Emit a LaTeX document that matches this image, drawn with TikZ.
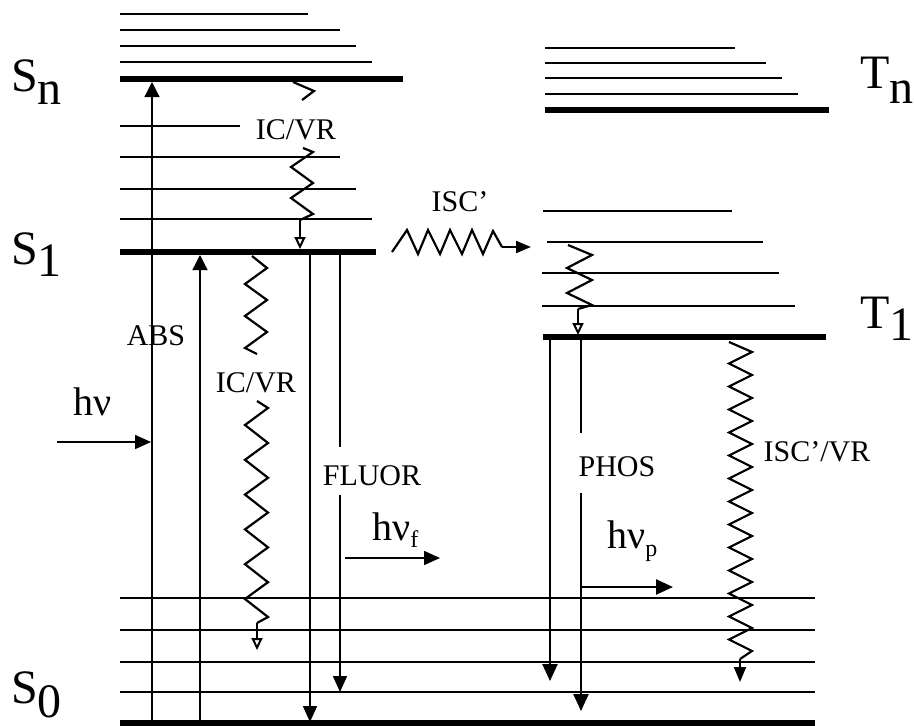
\documentclass[tikz,border=0pt]{standalone}
\usepackage{fontspec}
\setmainfont{Liberation Serif}
\usetikzlibrary{arrows.meta}
\begin{document}
\begin{tikzpicture}[x=1pt,y=-1pt,
  lvl/.style={line width=1.5pt},
  mainlvl/.style={line width=5.5pt},
  trans/.style={line width=1.6pt,-{Triangle[length=16pt,width=14pt]}},
  phos/.style={line width=2.5pt,-{Triangle[length=17pt,width=15pt]}},
  thinup/.style={line width=1.2pt,-{Triangle[length=15pt,width=15pt]}},
  zz/.style={line width=2.2pt,line join=miter},
  openhead/.style={line width=2pt,-{Triangle[open,length=12pt,width=11pt]}},
  smallhead/.style={line width=2pt,-{Triangle[length=15pt,width=12pt]}},
  big/.style={font=\fontsize{48}{52}\selectfont,inner sep=0pt,anchor=base west},
  hnu/.style={font=\fontsize{40}{44}\selectfont,inner sep=0pt,anchor=base west},
  lab/.style={font=\fontsize{30}{34}\selectfont,inner sep=0pt,anchor=base},
]
\useasboundingbox (0,0) rectangle (914,726);

% ---------- singlet manifold ----------
\foreach \y/\xe in {14/308,30/340,46/356,62/372}
  \draw[lvl] (120,\y) -- (\xe,\y);
\draw[mainlvl] (120,79) -- (403,79);
\foreach \y/\xe in {126/240,157/340,189/356,219/372}
  \draw[lvl] (120,\y) -- (\xe,\y);
\draw[mainlvl] (120,252) -- (376,252);
\foreach \y in {598,630,662,692}
  \draw[lvl] (120,\y) -- (815,\y);
\draw[mainlvl] (120,723) -- (815,723);

% ---------- triplet manifold ----------
\foreach \y/\xe in {48/735,63/766,78/782,94/798}
  \draw[lvl] (545,\y) -- (\xe,\y);
\draw[mainlvl] (545,110) -- (829,110);
\draw[lvl] (543,211) -- (732,211);
\draw[lvl] (547,242) -- (763,242);
\draw[lvl] (542,273) -- (779,273);
\draw[lvl] (542,306) -- (795,306);
\draw[mainlvl] (543,337) -- (826,337);

% ---------- state labels ----------
\node[big] (Sn) at (11,91) {S\raisebox{-13pt}{n}};
\node[big] (S1) at (11,264) {S\raisebox{-12pt}{1}};
\node[big] (S0) at (11,703) {S\raisebox{-14pt}{0}};
\node[big] (Tn) at (860,88) {T\raisebox{-15pt}{n}};
\node[big] (T1) at (860,328) {T\raisebox{-12pt}{1}};

% ---------- process labels ----------
\node[lab] (icvrA) at (296,139) {IC/VR};
\node[lab] (abs) at (156,345) {ABS};
\node[lab] (icvrB) at (256,392) {IC/VR};
\node[lab] (fluor) at (372,485) {FLUOR};
\node[lab] (isc) at (460,211) {ISC’};
\node[lab] (phosl) at (617,476) {PHOS};
\node[lab] (iscvr) at (817,461) {ISC’/VR};
\node[hnu] (hnu) at (73,415) {hν};
\node[hnu] (hnuf) at (372,540) {hν\raisebox{-7pt}{\fontsize{24}{26}\selectfont f}};
\node[hnu] (hnup) at (607,548) {hν\raisebox{-8pt}{\fontsize{24}{26}\selectfont p}};

% ---------- coordinates ----------
\coordinate (absBot) at (152,723);
\coordinate (absBrk1) at (152,307);
\coordinate (absBrk2) at (152,352);
\coordinate (absTip) at (152,82);
\coordinate (hnuStart) at (57,442);
\coordinate (hnuEnd) at (151,442);
\coordinate (exBot) at (200,723);
\coordinate (exTip) at (200,255);
\coordinate (flA1) at (310,254);
\coordinate (flA2) at (310,722);
\coordinate (flB1) at (340,254);
\coordinate (flB2) at (340,447);
\coordinate (flB3) at (340,495);
\coordinate (flB4) at (340,692);
\coordinate (hfS) at (345,558);
\coordinate (hfE) at (440,558);
\coordinate (phA1) at (550,339);
\coordinate (phA2) at (550,681);
\coordinate (phB1) at (581,339);
\coordinate (phB2) at (581,433);
\coordinate (phB3) at (581,493);
\coordinate (phB4) at (581,711);
\coordinate (hpS) at (581,587);
\coordinate (hpE) at (673,587);

% ---------- radiative transitions ----------
\draw[line width=1.2pt] (absBot) -- (absBrk1);
\draw[thinup] (absBrk2) -- (absTip);
\draw[trans] (hnuStart) -- (hnuEnd);
\draw[thinup] (exBot) -- (exTip);
\draw[trans] (flA1) -- (flA2);
\draw[line width=1.6pt] (flB1) -- (flB2);
\draw[trans] (flB3) -- (flB4);
\draw[trans] (hfS) -- (hfE);
\draw[phos] (phA1) -- (phA2);
\draw[line width=2.5pt] (phB1) -- (phB2);
\draw[phos] (phB3) -- (phB4);
\draw[phos] (hpS) -- (hpE);

% ---------- non-radiative (wavy) transitions ----------
% Sn -> S1 IC/VR
\draw[zz] (293,82) -- (314,91) -- (302,100);
\coordinate (icA) at (300,220);
\coordinate (icAtip) at (300,249);
\draw[zz] (303,148) -- (313,152) -- (291,167) -- (313,183) -- (291,198) -- (313,214) -- (icA);
\draw[openhead] (icA) -- (icAtip);

% S1 -> S0 IC/VR
\draw[zz] (252,256) -- (267,268) -- (245,284) -- (267,300) -- (245,316) -- (267,332) -- (245,348) -- (257,354);
\coordinate (icB) at (257,623);
\coordinate (icBtip) at (257,650);
\draw[zz] (257,401) -- (268,408)
  \foreach \k in {0,...,5} { -- (245,{425+34.8*\k}) -- (268,{443+34.8*\k}) }
  -- (icB);
\draw[openhead] (icB) -- (icBtip);

% ISC'
\coordinate (iscA) at (502,247);
\coordinate (iscTip) at (531,247);
\draw[zz] (392,252) -- (407,230) -- (418,254) -- (428,230) -- (440,254) -- (450,230)
  -- (462,254) -- (472,230) -- (483,254) -- (493,231) -- (iscA);
\draw[smallhead] (iscA) -- (iscTip);

% T side VR
\coordinate (tvr) at (578,309);
\coordinate (tvrTip) at (578,335);
\draw[zz] (568,245) -- (592,255) -- (567,268) -- (592,280) -- (567,293) -- (592,305) -- (tvr);
\draw[openhead] (tvr) -- (tvrTip);

% ISC'/VR T1 -> S0
\coordinate (iv) at (740,659);
\coordinate (ivTip) at (740,682);
\draw[zz] (729,342)
  \foreach \k in {0,...,12} { -- (752,{352+23*\k}) -- (729,{363.5+23*\k}) }
  -- (752,651) -- (iv);
\draw[smallhead] (iv) -- (ivTip);
\end{tikzpicture}
\end{document}
